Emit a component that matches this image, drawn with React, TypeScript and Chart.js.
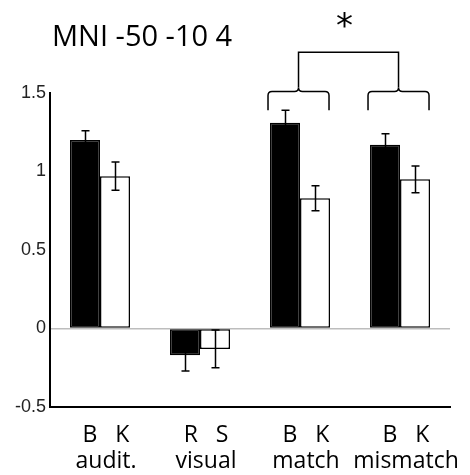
import React, { useEffect, useRef } from 'react';
import { Chart, registerables } from 'chart.js';

Chart.register(...registerables);

const categories = [
  ['B   K', 'audit.'],
  ['R   S', 'visual'],
  ['B   K', 'match'],
  ['B   K', 'mismatch'],
];
const firstValues = [1.2, -0.17, 1.31, 1.17];
const firstErrors = [0.06, 0.1, 0.08, 0.07];
const secondValues = [0.97, -0.13, 0.83, 0.95];
const secondErrors = [0.09, 0.12, 0.08, 0.085];
const yTicks = [-0.5, 0, 0.5, 1, 1.5];
const titleText = 'MNI -50 -10 4';
const significanceMark = '*';
const bracketGroups = [2, 3];
const errorsByDataset = [firstErrors, secondErrors];

const overlayPlugin = {
  id: 'overlay',
  afterDatasetsDraw(chart: any) {
    const ctx = chart.ctx;
    const y = chart.scales.y;
    ctx.save();
    ctx.strokeStyle = '#000';
    ctx.lineWidth = 1.5;
    // error bars
    chart.data.datasets.forEach((ds: any, di: number) => {
      const meta = chart.getDatasetMeta(di);
      meta.data.forEach((bar: any, i: number) => {
        const v = ds.data[i];
        const e = errorsByDataset[di][i];
        const px = Math.round(bar.x) + 0.5;
        const t = y.getPixelForValue(v + e);
        const b = y.getPixelForValue(v - e);
        ctx.beginPath();
        ctx.moveTo(px, t);
        ctx.lineTo(px, b);
        ctx.moveTo(px - 4, t);
        ctx.lineTo(px + 4, t);
        ctx.moveTo(px - 4, b);
        ctx.lineTo(px + 4, b);
        ctx.stroke();
      });
    });

    // brackets
    const m0 = chart.getDatasetMeta(0);
    const m1 = chart.getDatasetMeta(1);
    const yTop = y.getPixelForValue(1.51);
    const yEnd = y.getPixelForValue(1.39);
    const yBig = y.getPixelForValue(1.76);
    const r = 4;
    const centers: number[] = [];
    bracketGroups.forEach((g) => {
      const b0 = m0.data[g];
      const b1 = m1.data[g];
      const left = b0.x - b0.width / 2 - 2;
      const right = b1.x + b1.width / 2 - 1;
      const c = (left + right) / 2;
      centers.push(c);
      ctx.beginPath();
      ctx.moveTo(left, yEnd);
      ctx.lineTo(left, yTop + r);
      ctx.quadraticCurveTo(left, yTop, left + r, yTop);
      ctx.lineTo(c - r, yTop);
      ctx.quadraticCurveTo(c, yTop, c, yTop - r);
      ctx.quadraticCurveTo(c, yTop, c + r, yTop);
      ctx.lineTo(right - r, yTop);
      ctx.quadraticCurveTo(right, yTop, right, yTop + r);
      ctx.lineTo(right, yEnd);
      ctx.stroke();
    });
    ctx.beginPath();
    ctx.moveTo(centers[0], yTop - r);
    ctx.lineTo(centers[0], yBig);
    ctx.lineTo(centers[1], yBig);
    ctx.lineTo(centers[1], yTop - r);
    ctx.stroke();

    // significance mark
    ctx.fillStyle = '#000';
    ctx.font = '34px "DejaVu Sans"';
    ctx.textAlign = 'center';
    ctx.textBaseline = 'middle';
    ctx.fillText(significanceMark, (centers[0] + centers[1]) / 2 - 4, y.getPixelForValue(1.91));

    // title
    ctx.font = '29px "Open Sans"';
    ctx.textAlign = 'left';
    ctx.fillStyle = '#000';
    ctx.fillText(titleText, chart.chartArea.left + 2, 38);
    ctx.restore();
  },
};

export default function App() {
  const ref = useRef<HTMLCanvasElement | null>(null);
  useEffect(() => {
    if (!ref.current) return;
    const chart = new Chart(ref.current, {
      type: 'bar',
      data: {
        labels: categories as any,
        datasets: [
          {
            data: firstValues,
            backgroundColor: '#000',
            borderColor: '#000',
            borderWidth: 1.5,
            borderSkipped: false,
            categoryPercentage: 0.6,
            barPercentage: 1,
          },
          {
            data: secondValues,
            backgroundColor: '#fff',
            borderColor: '#000',
            borderWidth: 1.5,
            borderSkipped: false,
            categoryPercentage: 0.6,
            barPercentage: 1,
          },
        ],
      },
      options: {
        animation: false,
        responsive: true,
        maintainAspectRatio: false,
        layout: { padding: { top: 93, right: 18, left: 0, bottom: 0 } },
        plugins: {
          legend: { display: false },
          tooltip: { enabled: false },
          title: { display: false },
        },
        scales: {
          x: {
            grid: { display: false, drawTicks: false },
            border: { display: true, color: '#000', width: 2 },
            ticks: {
              color: '#000',
              font: { family: '"Open Sans"', size: 23, lineHeight: 1.13 },
              padding: 15,
              labelOffset: 6,
              maxRotation: 0,
              autoSkip: false,
            },
            afterFit: (s: any) => {
              s.height = 68;
            },
          },
          y: {
            min: -0.5,
            max: 1.5,
            afterBuildTicks: (s: any) => {
              s.ticks = yTicks.map((v) => ({ value: v }));
            },
            grid: {
              drawTicks: false,
              lineWidth: 1.5,
              color: (c: any) => (c.tick && c.tick.value === 0 ? '#bdbdbd' : 'rgba(0,0,0,0)'),
            },
            border: { display: true, color: '#000', width: 2 },
            ticks: {
              color: '#222',
              font: { family: '"Liberation Sans"', size: 18 },
              padding: 4,
              callback: (v: any) => String(v),
            },
            afterFit: (s: any) => {
              s.width = 50;
            },
          },
        },
      },
      plugins: [overlayPlugin],
    });
    return () => chart.destroy();
  }, []);
  return (
    <div style={{ position: 'absolute', left: 0, top: 0, width: 470, height: 475, background: '#fff' }}>
      <canvas ref={ref} />
    </div>
  );
}
